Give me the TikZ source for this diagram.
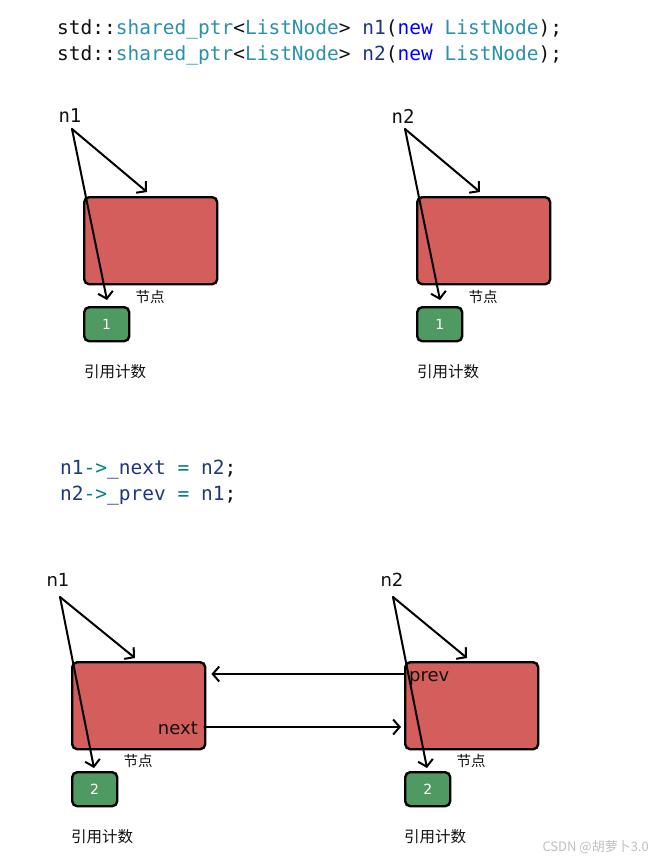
\documentclass[tikz,border=0pt]{standalone}
\usepackage{fontspec}
\usetikzlibrary{arrows.meta}
\newfontfamily\codefont{DejaVu Sans Mono}
\newfontfamily\labfont{DejaVu Sans}
\newfontfamily\cjk{Noto Sans CJK SC}
\definecolor{ctype}{HTML}{2B91AF}
\definecolor{cvar}{HTML}{1F377F}
\definecolor{ckw}{HTML}{0000FF}
\definecolor{cop}{HTML}{008080}
\definecolor{cdef}{HTML}{111111}
\definecolor{nodered}{HTML}{D45E5C}
\definecolor{nodegreen}{HTML}{4E9A62}
\begin{document}
\begin{tikzpicture}[x=1pt,y=-1pt,
  redbox/.style={draw=black, line width=2.4pt, rounded corners=5pt, fill=nodered,
    minimum width=133pt, minimum height=87pt, inner sep=0pt, anchor=north west},
  greenbox/.style={draw=black, line width=2.4pt, rounded corners=5pt, fill=nodegreen,
    minimum width=45pt, minimum height=34pt, inner sep=0pt, anchor=north west,
    text=white, font=\labfont\fontsize{14}{16}\selectfont},
  ptr/.style={draw=black, line width=2pt, line cap=round,
    -{Straight Barb[length=6.5pt,width=15pt,line width=2pt]}},
  code/.style={anchor=base west, inner sep=0pt, font=\codefont\fontsize{19.5}{24}\selectfont, text=cdef},
  toplab/.style={inner sep=0pt, font=\codefont\fontsize{19}{22}\selectfont, text=cdef},
  botlab/.style={inner sep=0pt, font=\labfont\fontsize{18}{22}\selectfont, text=cdef},
  nodelab/.style={inner sep=0pt, font=\cjk\fontsize{14.5}{16}\selectfont, text=cdef},
  cntlab/.style={inner sep=0pt, font=\cjk\fontsize{15.5}{18}\selectfont, text=cdef}
]
\useasboundingbox[fill=white] (0,0) rectangle (657,862);

% code lines
\node[code] (c1) at (57,34) {std::\textcolor{ctype}{shared\_ptr}<\textcolor{ctype}{ListNode}> \textcolor{cvar}{n1}(\textcolor{ckw}{new} \textcolor{ctype}{ListNode});};
\node[code] (c2) at (57,60) {std::\textcolor{ctype}{shared\_ptr}<\textcolor{ctype}{ListNode}> \textcolor{cvar}{n2}(\textcolor{ckw}{new} \textcolor{ctype}{ListNode});};
\node[code] (c3) at (60,474) {\textcolor{cvar}{n1}\textcolor{cop}{->}\textcolor{cvar}{\_next} \textcolor{cop}{=} \textcolor{cvar}{n2};};
\node[code] (c4) at (60,500) {\textcolor{cvar}{n2}\textcolor{cop}{->}\textcolor{cvar}{\_prev} \textcolor{cop}{=} \textcolor{cvar}{n1};};

% ---- top panel ----
\node[redbox] (rA) at (83,196) {};
\node[greenbox] (gA) at (83,306) {1};
\node[nodelab] (jA) at (150,297) {节点};
\node[cntlab] (kA) at (115,372) {引用计数};
\node[toplab] (nA) at (70,116) {n1};
\coordinate (sA) at (72,129);
\coordinate (tA) at (147,192);
\coordinate (uA) at (107,300);
\draw[ptr] (sA) -- (tA);
\draw[ptr] (sA) -- (uA);

\node[redbox] (rB) at (416,196) {};
\node[greenbox] (gB) at (416,306) {1};
\node[nodelab] (jB) at (483,297) {节点};
\node[cntlab] (kB) at (448,372) {引用计数};
\node[toplab] (nB) at (403,116) {n2};
\coordinate (sB) at (405,129);
\coordinate (tB) at (480,192);
\coordinate (uB) at (440,300);
\draw[ptr] (sB) -- (tB);
\draw[ptr] (sB) -- (uB);

% ---- bottom panel ----
\node[redbox] (rC) at (71,661) {};
\node[greenbox] (gC) at (71,771) {2};
\node[nodelab] (jC) at (138,761) {节点};
\node[cntlab] (kC) at (102,837) {引用计数};
\node[botlab] (nC) at (58,580) {n1};
\node[botlab, anchor=east] (xC) at (198,728) {next};

\node[redbox] (rD) at (404,661) {};
\node[greenbox] (gD) at (404,771) {2};
\node[nodelab] (jD) at (471,761) {节点};
\node[cntlab] (kD) at (435,837) {引用计数};
\node[botlab] (nD) at (392,580) {n2};
\node[botlab, anchor=west] (pD) at (409,678) {prev};

\coordinate (sC) at (60,597);
\coordinate (tC) at (135,658);
\coordinate (uC) at (94,768);
\draw[ptr] (sC) -- (tC);
\draw[ptr] (sC) -- (uC);
\coordinate (sD) at (393,597);
\coordinate (tD) at (467,658);
\coordinate (uD) at (427,768);
\draw[ptr] (sD) -- (tD);
\draw[ptr] (sD) -- (uD);

\draw[ptr] ([yshift=-13pt]rD.north west) -- ([xshift=5pt,yshift=-13pt]rC.north east);
\draw[ptr] ([xshift=-2pt,yshift=-66pt]rC.north east) -- ([xshift=-3pt,yshift=-66pt]rD.north west);

\node[inner sep=0pt, anchor=east, text=black!25, font=\cjk\fontsize{13}{15}\selectfont] (wm) at (649,847) {CSDN @胡萝卜3.0};
\end{tikzpicture}
\end{document}
